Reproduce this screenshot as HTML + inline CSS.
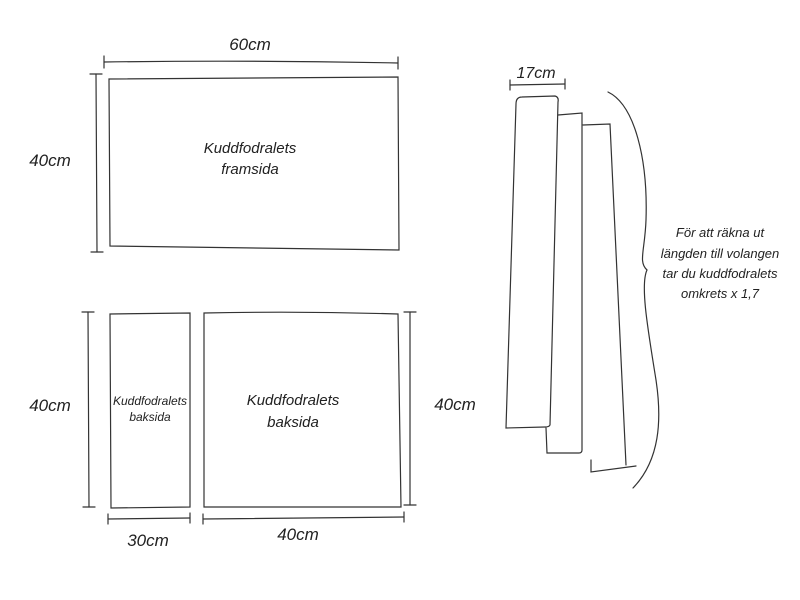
<!DOCTYPE html>
<html><head><meta charset="utf-8"><style>
html,body{margin:0;padding:0;background:#fff;}
svg{display:block}
text{font-family:"Liberation Sans",sans-serif;font-style:italic;fill:#222;}
</style></head><body>
<svg width="800" height="600" viewBox="0 0 800 600" xmlns="http://www.w3.org/2000/svg">
<g fill="none" stroke="#333" stroke-width="1.2" stroke-linecap="round">
<!-- top rect -->
<path d="M109 79 L398 77 L399 250 L110 246 Z"/>
<path d="M104 62 Q250 60 398 63"/><path d="M104 56 L104 68"/><path d="M398 57 L398 69"/>
<path d="M96 74 L97 252"/><path d="M90 74 L102 74"/><path d="M91 252 L103 252"/>
<!-- bottom left rect -->
<path d="M110 314 L190 313 L190 507 L111 508 Z"/>
<!-- bottom right rect -->
<path d="M204 313 Q300 311 398 314 L401 507 L204 507 Z"/>
<path d="M88 312 L89 507"/><path d="M82 312 L94 312"/><path d="M83 507 L95 507"/>
<path d="M410 312 L410 505"/><path d="M404 312 L416 312"/><path d="M404 505 L416 505"/>
<path d="M108 519 L190 518"/><path d="M108 514 L108 524"/><path d="M190 513 L190 523"/>
<path d="M203 519 L404 517"/><path d="M203 514 L203 524"/><path d="M404 512 L404 522"/>
<!-- strips -->
<path d="M510 85 L565 84"/><path d="M510 80 L510 90"/><path d="M565 79 L565 89"/>
<path d="M516 104 Q516 97 522 97 L555 96 Q559 97 558 102 L550 425 Q549 427 545 427 L506 428 L516 104"/>
<path d="M558 115 L582 113 L582 450 Q582 453 579 453 L547 453 L546 428"/>
<path d="M583 125 L610 124 L626 465"/>
<path d="M591 460 L591 472 L636 466"/>
<path d="M608 92 C635 105 648 160 646 220 C645 250 638 262 647 270 C640 285 648 330 656 380 C662 420 660 460 633 488"/>
</g>
<g font-size="15" text-anchor="middle">
<text x="250" y="50" font-size="17">60cm</text>
<text x="50" y="166" font-size="17">40cm</text>
<text x="250" y="153">Kuddfodralets</text>
<text x="250" y="174">framsida</text>
<text x="50" y="411" font-size="17">40cm</text>
<text x="150" y="405" font-size="12">Kuddfodralets</text>
<text x="150" y="421" font-size="12">baksida</text>
<text x="293" y="405">Kuddfodralets</text>
<text x="293" y="427">baksida</text>
<text x="455" y="410" font-size="17">40cm</text>
<text x="148" y="546" font-size="17">30cm</text>
<text x="298" y="540" font-size="17">40cm</text>
<text x="536" y="78" font-size="16">17cm</text>
<g font-size="13">
<text x="720" y="237">För att räkna ut</text>
<text x="720" y="258">längden till volangen</text>
<text x="720" y="278">tar du kuddfodralets</text>
<text x="720" y="298">omkrets x 1,7</text>
</g>
</g>
</svg>
</body></html>
